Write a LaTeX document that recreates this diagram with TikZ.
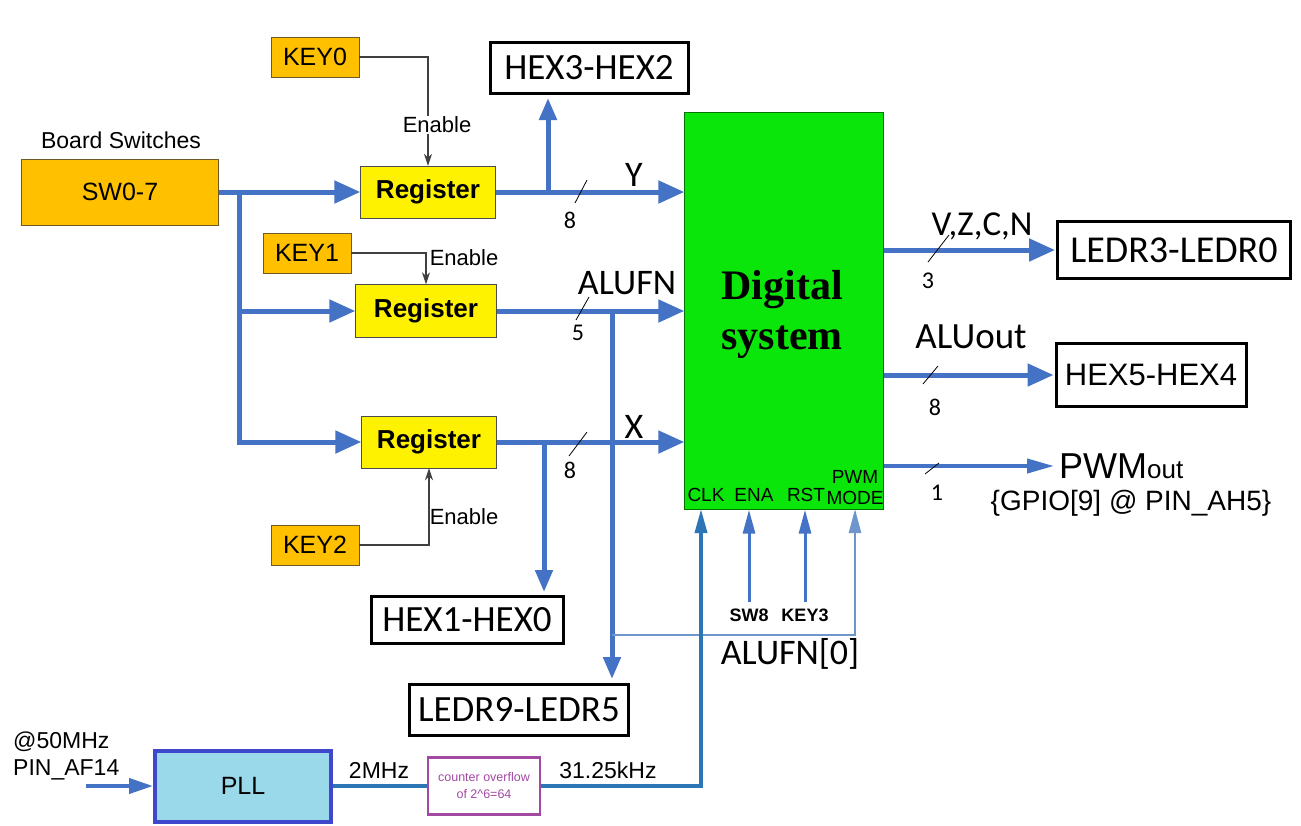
\documentclass[tikz,border=0pt]{standalone}
\usepackage{fontspec}
\setmainfont{Liberation Sans}
\newfontfamily\calfont{Carlito}
\newfontfamily\serfont{Liberation Serif}
\usetikzlibrary{arrows.meta, positioning}

\definecolor{busblue}{RGB}{68,114,196}
\definecolor{clkblue}{RGB}{46,117,182}
\definecolor{selblue}{RGB}{110,150,205}
\definecolor{keyorange}{RGB}{255,192,0}
\definecolor{keyedge}{RGB}{110,90,40}
\definecolor{digigreen}{RGB}{10,230,10}
\definecolor{pllfill}{RGB}{153,217,234}
\definecolor{pllblue}{RGB}{63,72,204}
\definecolor{cntpurple}{RGB}{163,73,164}

\newcommand{\fsz}[1]{\fontsize{#1}{#1}\selectfont}

\begin{document}
\begin{tikzpicture}[
            x = 1pt, y = -1pt, % pixel grid of the drawing
            > = {Triangle[length=26pt,width=22pt]}, % big arrow head
            bus/.style = {busblue, line width=5pt},
            ctl/.style = {busblue, line width=3pt, -{Triangle[length=24pt,width=12pt]}},
            tap/.style = {bus, -{Triangle[length=22pt,width=17pt]}},
            enl/.style = {black!75, line width=1.3pt, -{Stealth[length=12pt,width=8pt]}},
            clk/.style = {clkblue, line width=3.5pt},
            slash/.style = {black, line width=0.8pt},
            lbl/.style = {font=\calfont\fsz{36}, inner sep=0pt},
            num/.style = {font=\calfont\fsz{24}, inner sep=0pt},
            small/.style = {font=\fsz{19}, inner sep=0pt}
        ]

        \tikzstyle{keybox}=[
            draw = keyedge,
            fill = keyorange,
            minimum width = 88,
            minimum height = 40,
            inner sep = 0pt,
            font = \fsz{25}
        ]
        \tikzstyle{regbox}=[
            draw = black!70,
            fill = yellow,
            minimum width = 135,
            minimum height = 52,
            inner sep = 0pt,
            font = \bfseries\fsz{26}
        ]
        \tikzstyle{outbox}=[
            draw = black,
            line width = 3pt,
            fill = white,
            inner sep = 0pt,
            font = \calfont\fsz{37}
        ]

        \fill[white] (0,0) rectangle (1301,825);
        \useasboundingbox (0,0) rectangle (1301,825);

        % inputs
        \node[keybox, minimum width=197, minimum height=66] (sw) at (120,192) {SW0-7};
        \node[font=\fsz{23}] (lblsw) at (121,140) {Board Switches};
        \node[keybox] (key0) at (315,57) {KEY0};
        \node[keybox] (key1) at (307,253) {KEY1};
        \node[keybox] (key2) at (315,545) {KEY2};

        % registers
        \node[regbox] (reg1) at (428,192) {Register};
        \node[regbox, minimum width=141, minimum height=53] (reg2) at (426,311) {Register};
        \node[regbox] (reg3) at (429,442) {Register};

        % digital system
        \node[draw=green!45!black, fill=digigreen, minimum width=199, minimum height=397,
              inner sep=0pt] (dig) at (784,311) {};
        \node[align=center, inner sep=0pt, font=\serfont\bfseries\fontsize{42}{50}\selectfont]
              (lbldig) at (782,314) {Digital\\system};

        % displays and leds
        \node[outbox, minimum width=198, minimum height=51] (hex32) at (589,68) {HEX3-HEX2};
        \node[outbox, minimum width=233, minimum height=57, font=\calfont\fsz{38}] (ledr30) at (1174,250) {LEDR3-LEDR0};
        \node[outbox, minimum width=190, minimum height=63, font=\fsz{31}] (hex54) at (1151,375) {HEX5-HEX4};
        \node[outbox, minimum width=192, minimum height=47] (hex10) at (467,620) {HEX1-HEX0};
        \node[outbox, minimum width=219, minimum height=51] (ledr95) at (519,710) {LEDR9-LEDR5};

        % clock path
        \node[draw=pllblue, line width=4pt, fill=pllfill, minimum width=176, minimum height=71,
              font=\fsz{25}] (pll) at (243,786) {PLL};
        \node[draw=cntpurple, line width=2.5pt, minimum width=112, minimum height=57, align=center,
              text=cntpurple, font=\fontsize{12.5}{17}\selectfont] (cnt) at (484,786) {counter overflow\\of 2\textasciicircum6=64};

        % switches to registers
        \coordinate (swsplit) at (239,192);
        \draw[bus, ->] (sw.east) -- (reg1.west);
        \draw[bus, ->] (swsplit) |- (reg3.west);
        \draw[bus, ->] (swsplit |- reg2.west) -- (reg2.west);

        % enables
        \draw[enl] (key0.east) -| (reg1.north);
        \draw[enl] (key1.east) -| (reg2.north);
        \draw[enl] (key2.east) -| (reg3.south);
        \node[fill=white, font=\fsz{22}, inner sep=1pt] (en0) at (437,125) {Enable};
        \node[font=\fsz{22}, inner sep=1pt] (en1) at (464,258) {Enable};
        \node[font=\fsz{22}, inner sep=1pt] (en2) at (464,517) {Enable};

        % registers to system
        \draw[bus, ->] (reg1.east) -- (reg1.east -| dig.west);
        \draw[bus, ->] (reg2.east) -- (reg2.east -| dig.west);
        \draw[bus, ->] (reg3.east) -- (reg3.east -| dig.west);

        \coordinate (ytap) at (548,192);
        \coordinate (ftap) at (612,311);
        \coordinate (xtap) at (544,442);
        \draw[tap, shorten >=3pt] (ytap) -- (ytap |- hex32.south);
        \draw[tap, shorten >=4pt] (ftap) -- (ftap |- ledr95.north);
        \draw[tap, shorten >=3pt] (xtap) -- (xtap |- hex10.north);

        % control inputs
        \coordinate (f0tap) at (612,635);
        \coordinate (pclk) at (701,509);
        \coordinate (pmode) at (855,509);
        \draw[ctl, selblue, line width=2.5pt] (f0tap) -| (pmode);
        \node[font=\bfseries\fsz{18}, inner sep=0pt] (sw8) at (749,615) {SW8};
        \node[font=\bfseries\fsz{18}, inner sep=0pt] (key3) at (805,615) {KEY3};
        \draw[ctl, shorten <=6pt] (sw8.north) -- (sw8.north |- dig.south);
        \draw[ctl, shorten <=6pt] (key3.north) -- (key3.north |- dig.south);

        \node[small] (lclk) at (706,495) {CLK};
        \node[small] (lena) at (754,495) {ENA};
        \node[small] (lrst) at (806,495) {RST};
        \node[small, align=center, font=\fontsize{19}{21}\selectfont] (lmode) at (855,488) {PWM\\MODE};

        % outputs
        \draw[bus, ->, shorten >=1pt] (ledr30.west -| dig.east) -- (ledr30.west);
        \draw[bus, ->, shorten >=1pt] (hex54.west -| dig.east) -- (hex54.west);
        \node[anchor=west, inner sep=0pt] (pwm) at (1059,466) {\fsz{36}PWM\fsz{26}out};
        \node[font=\fsz{28}, inner sep=0pt] (gpio) at (1131,503) {\{GPIO[9] @ PIN\_AH5\}};
        \draw[ctl, line width=4pt, -{Triangle[length=27pt,width=14pt]}, shorten >=5pt]
            (pwm.west -| dig.east) -- (pwm.west);

        % bus names and widths
        \node[lbl] (lbly) at (634,175) {Y};
        \node[lbl] (lblf) at (627,283) {ALUFN};
        \node[lbl] (lblx) at (634,427) {X};
        \node[lbl, font=\calfont\fsz{35}] (lblv) at (982,226) {V,Z,C,N};
        \node[lbl, font=\calfont\fsz{37}] (lblo) at (971,337) {ALUout};
        \node[lbl] (lblf0) at (790,654) {ALUFN[0]};

        \draw[slash] (575,203) -- (587,180);
        \draw[slash] (576,320) -- (589,297);
        \draw[slash] (569,456) -- (587,432);
        \draw[slash] (928,262) -- (949,235);
        \draw[slash] (923,384) -- (938,366);
        \draw[slash] (925,474) -- (939,463);
        \node[num] (w8y) at (570,220) {8};
        \node[num] (w5f) at (578,333) {5};
        \node[num] (w8x) at (570,470) {8};
        \node[num] (w3v) at (928,281) {3};
        \node[num] (w8o) at (935,407) {8};
        \node[num] (w1p) at (937,493) {1};

        % clock wiring
        \coordinate (osc) at (86,786);
        \draw[busblue, line width=4pt, -{Triangle[length=24pt,width=15pt]}] (osc) -- (pll.west);
        \draw[clk] (pll.east) -- (cnt.west);
        \draw[clk, -{Triangle[length=24pt,width=12pt]}] (cnt.east) -| (pclk);

        \node[anchor=west, font=\fsz{23}, inner sep=0pt] (lfreq) at (13,742) {@50MHz};
        \node[anchor=west, font=\fsz{23}, inner sep=0pt] (lpin) at (13,770) {PIN\_AF14};
        \node[font=\fsz{23}, inner sep=0pt] (l2m) at (379,770) {2MHz};
        \node[font=\fsz{23}, inner sep=0pt] (l31) at (608,770) {31.25kHz};
    \end{tikzpicture}
\end{document}
